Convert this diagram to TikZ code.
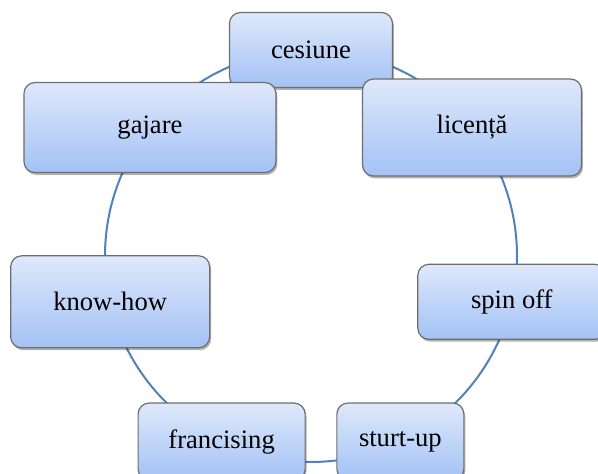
\documentclass[tikz,border=0pt]{standalone}
\usepackage{fontspec}
\setmainfont{Liberation Serif}
\usepackage{xcolor}
\usepackage{tikz}
\usetikzlibrary{calc,shadows}
\definecolor{boxtop}{HTML}{DFE8FB}
\definecolor{boxbot}{HTML}{A3C2F5}
\definecolor{boxline}{HTML}{6E6E6E}
\definecolor{ringc}{HTML}{4F81BD}
\tikzset{
  ring/.style={draw=ringc, line width=1pt},
  box/.style={draw=boxline, line width=0.6pt, rounded corners=5.5pt,
    top color=boxtop, bottom color=boxbot, text=black, inner sep=0pt,
    font=\fontsize{13.3}{16}\selectfont,
    drop shadow={shadow xshift=0.7pt, shadow yshift=-1.2pt, opacity=0.3, fill=black}},
}

\begin{document}
\begin{tikzpicture}[x=0.5pt,y=0.5pt]
  \useasboundingbox (0,0) rectangle (598,474);
  \clip (0,0) rectangle (598,474);
  \coordinate (ctr) at (311,218);
  \draw[ring] (ctr) circle[radius=206];
  % seven boxes round the ring, cesiune first so the others lie on it
  \foreach \nm/\txt/\w/\h [count=\i from 0] in {
      cesiune/cesiune/81.5/37.5,
      gajare/gajare/126/45,
      knowhow/know-how/99.5/46,
      francising/francising/83.5/38.5,
      sturtup/sturt-up/63.5/38.5,
      spinoff/spin off/94/37.5,
      licenta/licență/109.5/48.5}
    \node[box, minimum width=\w pt, minimum height=\h pt] (\nm)
      at ($(ctr)+({90+\i*360/7}:206)$) {\txt};
\end{tikzpicture}
\end{document}
